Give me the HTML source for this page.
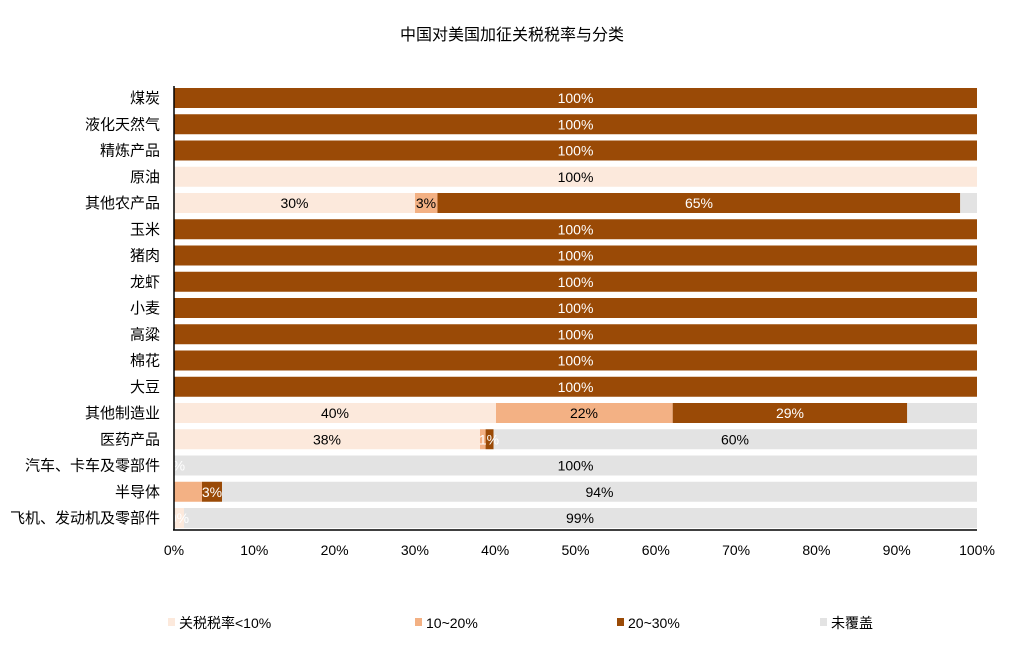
<!DOCTYPE html>
<html><head><meta charset="utf-8"><style>
body{margin:0;background:#fff}
text{font-family:"Liberation Sans","Noto Sans CJK SC",sans-serif}
</style></head><body>
<svg width="1014" height="640" xmlns="http://www.w3.org/2000/svg">
<text x="512" y="40" font-size="16" text-anchor="middle" fill="#000">中国对美国加征关税税率与分类</text>
<g font-size="15" text-anchor="end" fill="#000">
<text x="160" y="103">煤炭</text>
<text x="160" y="129.25">液化天然气</text>
<text x="160" y="155.5">精炼产品</text>
<text x="160" y="181.75">原油</text>
<text x="160" y="208">其他农产品</text>
<text x="160" y="234.25">玉米</text>
<text x="160" y="260.5">猪肉</text>
<text x="160" y="286.75">龙虾</text>
<text x="160" y="313">小麦</text>
<text x="160" y="339.25">高粱</text>
<text x="160" y="365.5">棉花</text>
<text x="160" y="391.75">大豆</text>
<text x="160" y="418">其他制造业</text>
<text x="160" y="444.25">医药产品</text>
<text x="160" y="470.5">汽车、卡车及零部件</text>
<text x="160" y="496.75">半导体</text>
<text x="160" y="523">飞机、发动机及零部件</text>
</g>
<g>
<rect x="174" y="88" width="803" height="20" fill="#9A4A06"/>
<rect x="174" y="114.25" width="803" height="20" fill="#9A4A06"/>
<rect x="174" y="140.5" width="803" height="20" fill="#9A4A06"/>
<rect x="174" y="166.75" width="803" height="20" fill="#FCE9DC"/>
<rect x="174" y="193" width="241" height="20" fill="#FCE9DC"/>
<rect x="415" y="193" width="22.5" height="20" fill="#F3B184"/>
<rect x="437.5" y="193" width="522.7" height="20" fill="#9A4A06"/>
<rect x="960.2" y="193" width="16.8" height="20" fill="#E3E3E3"/>
<rect x="174" y="219.25" width="803" height="20" fill="#9A4A06"/>
<rect x="174" y="245.5" width="803" height="20" fill="#9A4A06"/>
<rect x="174" y="271.75" width="803" height="20" fill="#9A4A06"/>
<rect x="174" y="298" width="803" height="20" fill="#9A4A06"/>
<rect x="174" y="324.25" width="803" height="20" fill="#9A4A06"/>
<rect x="174" y="350.5" width="803" height="20" fill="#9A4A06"/>
<rect x="174" y="376.75" width="803" height="20" fill="#9A4A06"/>
<rect x="174" y="403" width="322" height="20" fill="#FCE9DC"/>
<rect x="496" y="403" width="176.7" height="20" fill="#F3B184"/>
<rect x="672.7" y="403" width="234.5" height="20" fill="#9A4A06"/>
<rect x="907.2" y="403" width="69.8" height="20" fill="#E3E3E3"/>
<rect x="174" y="429.25" width="306" height="20" fill="#FCE9DC"/>
<rect x="480" y="429.25" width="5.6" height="20" fill="#F3B184"/>
<rect x="485.6" y="429.25" width="8" height="20" fill="#9A4A06"/>
<rect x="493.6" y="429.25" width="483.4" height="20" fill="#E3E3E3"/>
<rect x="174" y="455.5" width="803" height="20" fill="#E3E3E3"/>
<rect x="174" y="481.75" width="28" height="20" fill="#F3B184"/>
<rect x="202" y="481.75" width="20" height="20" fill="#9A4A06"/>
<rect x="222" y="481.75" width="755" height="20" fill="#E3E3E3"/>
<rect x="174" y="508" width="10" height="20" fill="#FCE9DC"/>
<rect x="184" y="508" width="793" height="20" fill="#E3E3E3"/>
</g>
<g font-size="14" text-anchor="middle" fill="#fff">
<text x="575.5" y="103">100%</text>
<text x="575.5" y="129.25">100%</text>
<text x="575.5" y="155.5">100%</text>
<text x="575.5" y="181.75" fill="#000">100%</text>
<text x="294.5" y="208" fill="#000">30%</text>
<text x="426" y="208" fill="#000">3%</text>
<text x="699" y="208">65%</text>
<text x="575.5" y="234.25">100%</text>
<text x="575.5" y="260.5">100%</text>
<text x="575.5" y="286.75">100%</text>
<text x="575.5" y="313">100%</text>
<text x="575.5" y="339.25">100%</text>
<text x="575.5" y="365.5">100%</text>
<text x="575.5" y="391.75">100%</text>
<text x="335" y="418" fill="#000">40%</text>
<text x="584" y="418" fill="#000">22%</text>
<text x="790" y="418">29%</text>
<text x="327" y="444.25" fill="#000">38%</text>
<text x="489" y="444.25">1%</text>
<text x="735" y="444.25" fill="#000">60%</text>
<text x="175" y="470.5">0%</text>
<text x="575.5" y="470.5" fill="#000">100%</text>
<text x="212" y="496.75">3%</text>
<text x="599.5" y="496.75" fill="#000">94%</text>
<text x="179" y="523">0%</text>
<text x="580" y="523" fill="#000">99%</text>
</g>
<line x1="174" y1="86" x2="174" y2="530" stroke="#000" stroke-width="1.5"/>
<line x1="173" y1="530" x2="977" y2="530" stroke="#000" stroke-width="1.5"/>
<g font-size="14" text-anchor="middle" fill="#000">
<text x="174" y="555">0%</text><text x="254.3" y="555">10%</text><text x="334.6" y="555">20%</text><text x="414.9" y="555">30%</text><text x="495.2" y="555">40%</text><text x="575.5" y="555">50%</text><text x="655.8" y="555">60%</text><text x="736.1" y="555">70%</text><text x="816.4" y="555">80%</text><text x="896.7" y="555">90%</text><text x="977" y="555">100%</text>
</g>
<rect x="168" y="618" width="7" height="8" fill="#FCE9DC"/><text x="179" y="628" font-size="14">关税税率&lt;10%</text>
<rect x="415" y="618" width="7" height="8" fill="#F3B184"/><text x="426" y="628" font-size="14">10~20%</text>
<rect x="617" y="618" width="7" height="8" fill="#9A4A06"/><text x="628" y="628" font-size="14">20~30%</text>
<rect x="820" y="618" width="7" height="8" fill="#E3E3E3"/><text x="831" y="628" font-size="14">未覆盖</text>
</svg>
</body></html>
